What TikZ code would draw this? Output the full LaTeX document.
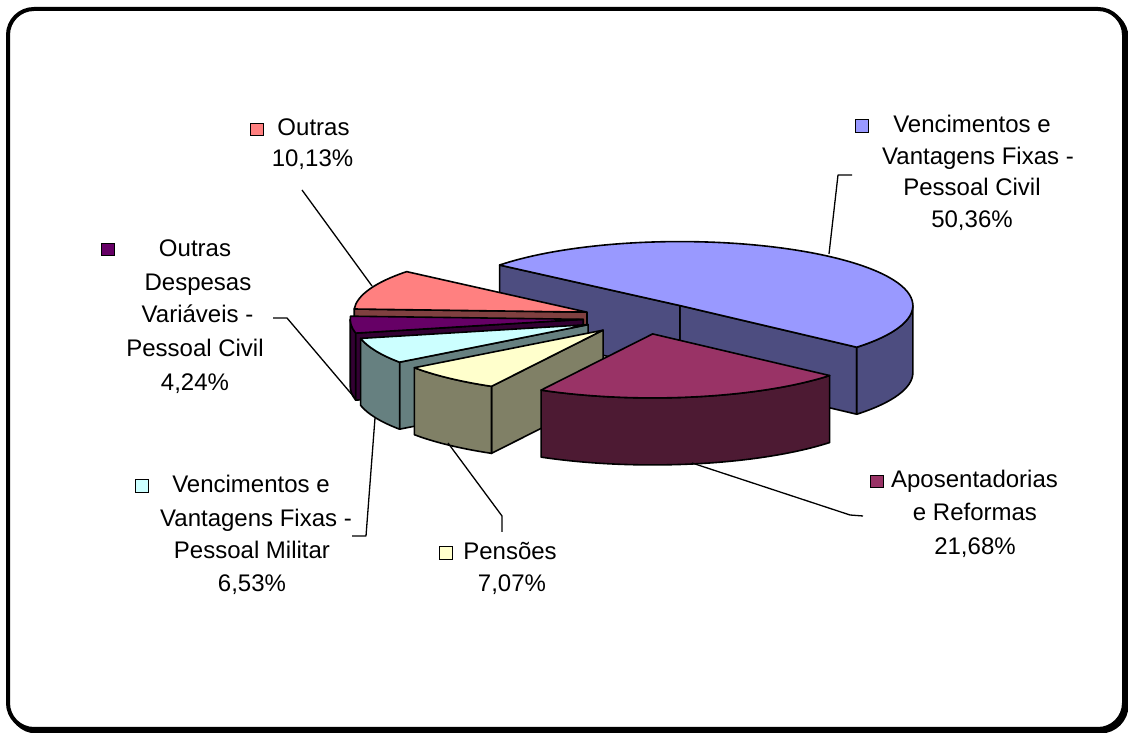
\documentclass[tikz,border=0pt]{standalone}
\usepackage{fontspec}
\setmainfont{Liberation Sans}
\usetikzlibrary{calc}
\definecolor{blueTop}{HTML}{9999FF}
\definecolor{blueSide}{HTML}{4D4D80}
\definecolor{magTop}{HTML}{993366}
\definecolor{magSide}{HTML}{4D1A33}
\definecolor{yelTop}{HTML}{FFFFCC}
\definecolor{yelSide}{HTML}{808066}
\definecolor{cyaTop}{HTML}{CCFFFF}
\definecolor{cyaSide}{HTML}{668080}
\definecolor{purTop}{HTML}{660066}
\definecolor{purSide}{HTML}{330033}
\definecolor{pinTop}{HTML}{FF8080}
\definecolor{pinSide}{HTML}{804040}
\begin{document}
\begin{tikzpicture}[x=1pt,y=1pt,
  face/.style={draw=black,line width=1.6pt,line join=round},
  er/.style={x radius=233pt,y radius=64pt},
  lbl/.style={anchor=base,inner sep=0pt,font=\fontsize{24}{28}\selectfont},
  key/.style={draw=black,line width=1.2pt,minimum size=12.5pt,inner sep=0pt},
  leader/.style={draw=black,line width=1.3pt,line join=round}]
\useasboundingbox (0,0) rectangle (1128,733);
\fill[white] (0,0) rectangle (1128,733);
% frame with shadow
\draw[line width=4pt,rounded corners=26pt] (10.5,721.5) rectangle (1126.5,1.5);
\draw[line width=4pt,rounded corners=26pt,fill=white] (8,724) rectangle (1124,4);

\coordinate (C) at (642,415);
% ---------- blue slice (Vencimentos Civil) ----------
\coordinate (Ab) at ($(C)+(50.05:59pt and 16.2pt)$);
\filldraw[face,fill=blueSide] (Ab) -- ($(Ab)+(-40.6:233pt and 64pt)$) -- ++(0,-67pt) -- ($(Ab)+(0,-67pt)$) -- cycle;
\filldraw[face,fill=blueSide] (Ab) -- ($(Ab)+(140.7:233pt and 64pt)$) -- ++(0,-67pt) -- ($(Ab)+(0,-67pt)$) -- cycle;
\filldraw[face,fill=blueSide] ($(Ab)+(-40.6:233pt and 64pt)$) arc[er,start angle=-40.6,end angle=0] -- ++(0,-67pt) arc[er,start angle=0,end angle=-40.6] -- cycle;
\filldraw[face,fill=blueTop] (Ab) -- ($(Ab)+(-40.6:233pt and 64pt)$) arc[er,start angle=-40.6,end angle=140.7] -- cycle;
% ---------- pink slice (Outras) ----------
\coordinate (Ap) at ($(C)+(158.9:59pt and 16.2pt)$);
\filldraw[face,fill=pinSide] (Ap) -- ($(Ap)+(177.17:233pt and 64pt)$) -- ++(0,-67pt) -- ($(Ap)+(0,-67pt)$) -- cycle;
\filldraw[face,fill=pinTop] (Ap) -- ($(Ap)+(140.7:233pt and 64pt)$) arc[er,start angle=140.7,end angle=177.17] -- cycle;
% ---------- purple slice (Outras Despesas) ----------
\coordinate (Au) at ($(C)+(184.8:59pt and 16.2pt)$);
\filldraw[face,fill=purSide] (Au) -- ($(Au)+(192.43:233pt and 64pt)$) -- ++(0,-67pt) -- ($(Au)+(0,-67pt)$) -- cycle;
\filldraw[face,fill=purSide] ($(Au)+(180:233pt and 64pt)$) arc[er,start angle=180,end angle=192.43] -- ++(0,-67pt) arc[er,start angle=192.43,end angle=180] -- cycle;
\filldraw[face,fill=purTop] (Au) -- ($(Au)+(177.17:233pt and 64pt)$) arc[er,start angle=177.17,end angle=192.43] -- cycle;
% ---------- cyan slice (Militar) ----------
\coordinate (Ac) at ($(C)+(204.2:59pt and 16.2pt)$);
\filldraw[face,fill=cyaSide] (Ac) -- ($(Ac)+(215.94:233pt and 64pt)$) -- ++(0,-67pt) -- ($(Ac)+(0,-67pt)$) -- cycle;
\filldraw[face,fill=cyaSide] ($(Ac)+(192.43:233pt and 64pt)$) arc[er,start angle=192.43,end angle=215.94] -- ++(0,-67pt) arc[er,start angle=215.94,end angle=192.43] -- cycle;
\filldraw[face,fill=cyaTop] (Ac) -- ($(Ac)+(192.43:233pt and 64pt)$) arc[er,start angle=192.43,end angle=215.94] -- cycle;
% ---------- yellow slice (Pensoes) ----------
\coordinate (Ay) at ($(C)+(228.7:59pt and 16.2pt)$);
\filldraw[face,fill=yelSide] (Ay) -- ($(Ay)+(241.39:233pt and 64pt)$) -- ++(0,-67pt) -- ($(Ay)+(0,-67pt)$) -- cycle;
\filldraw[face,fill=yelSide] ($(Ay)+(215.94:233pt and 64pt)$) arc[er,start angle=215.94,end angle=241.39] -- ++(0,-67pt) arc[er,start angle=241.39,end angle=215.94] -- cycle;
\filldraw[face,fill=yelTop] (Ay) -- ($(Ay)+(215.94:233pt and 64pt)$) arc[er,start angle=215.94,end angle=241.39] -- cycle;
% ---------- magenta slice (Aposentadorias) ----------
\coordinate (Am) at ($(C)+(280.4:59pt and 16.2pt)$);
\filldraw[face,fill=magSide] ($(Am)+(241.39:233pt and 64pt)$) arc[er,start angle=241.39,end angle=319.44] -- ++(0,-67pt) arc[er,start angle=319.44,end angle=241.39] -- cycle;
\filldraw[face,fill=magTop] (Am) -- ($(Am)+(241.39:233pt and 64pt)$) arc[er,start angle=241.39,end angle=319.44] -- cycle;

% ---------- leader lines ----------
\coordinate (b1) at (829,479); \coordinate (b2) at (838,558); \coordinate (b3) at (852,558);
\coordinate (m1) at (692,270); \coordinate (m2) at (850,218); \coordinate (m3) at (863,217);
\coordinate (y1) at (448,290); \coordinate (y2) at (502,217); \coordinate (y3) at (502,201);
\coordinate (c1) at (375,315); \coordinate (c2) at (366,197); \coordinate (c3) at (352,197);
\coordinate (u1) at (354,336); \coordinate (u2) at (287,415); \coordinate (u3) at (273,415);
\coordinate (p1) at (372,447); \coordinate (p2) at (302,543);
\draw[leader] (b1) -- (b2) -- (b3);
\draw[leader] (m1) -- (m2) -- (m3);
\draw[leader] (y1) -- (y2) -- (y3);
\draw[leader] (c1) -- (c2) -- (c3);
\draw[leader] (u1) -- (u2) -- (u3);
\draw[leader] (p1) -- (p2);

% ---------- labels ----------
\node[key,fill=blueTop] (kb) at (862,607) {};
\node[lbl] (tb1) at (972,600) {Vencimentos e};
\node[lbl] (tb2) at (978,568.5) {Vantagens Fixas -};
\node[lbl] (tb3) at (972,537) {Pessoal Civil};
\node[lbl] (tb4) at (972,505.5) {50,36\%};

\node[key,fill=magTop] (km) at (877,251.5) {};
\node[lbl] (tm1) at (974.5,245) {Aposentadorias};
\node[lbl] (tm2) at (975,212) {e Reformas};
\node[lbl] (tm3) at (975,178) {21,68\%};

\node[key,fill=yelTop] (ky) at (446,180) {};
\node[lbl] (ty1) at (510,173) {Pensões};
\node[lbl] (ty2) at (512,141) {7,07\%};

\node[key,fill=cyaTop] (kc) at (142,247) {};
\node[lbl] (tc1) at (251,240) {Vencimentos e};
\node[lbl] (tc2) at (256,206.5) {Vantagens Fixas -};
\node[lbl] (tc3) at (252,174) {Pessoal Militar};
\node[lbl] (tc4) at (252,141) {6,53\%};

\node[key,fill=purTop] (ku) at (108,483.5) {};
\node[lbl] (tu1) at (195,476.5) {Outras};
\node[lbl] (tu2) at (198,442.5) {Despesas};
\node[lbl] (tu3) at (197.5,410.5) {Variáveis -};
\node[lbl] (tu4) at (195,376.5) {Pessoal Civil};
\node[lbl] (tu5) at (195,342.5) {4,24\%};

\node[key,fill=pinTop] (kp) at (257,603.5) {};
\node[lbl] (tp1) at (313.5,597) {Outras};
\node[lbl] (tp2) at (312.5,566) {10,13\%};
\end{tikzpicture}
\end{document}
